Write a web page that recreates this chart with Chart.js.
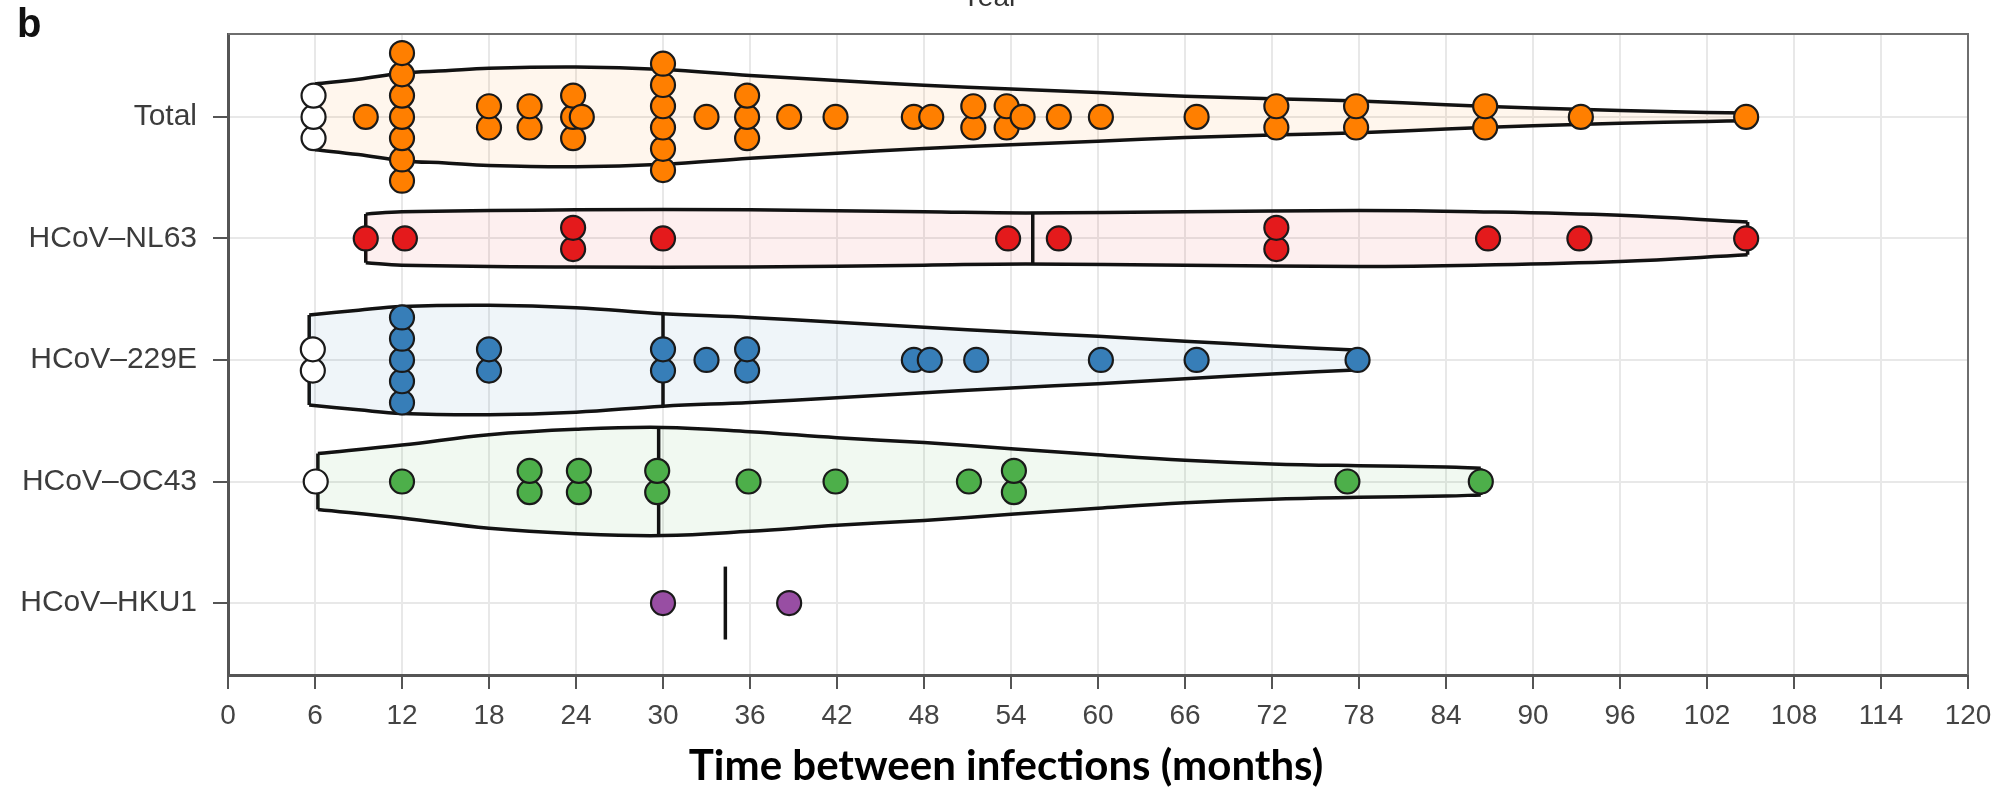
<!DOCTYPE html>
<html>
<head>
<meta charset="utf-8">
<script src="https://cdn.jsdelivr.net/npm/chart.js@4.4.1/dist/chart.umd.min.js"></script>
<style>
  html, body { margin: 0; padding: 0; background: #fff; }
  #wrap { width: 2012px; height: 797px; }
</style>
</head>
<body>
<div id="wrap"><canvas id="violin" width="2012" height="797"></canvas></div>
<script>
// rows, top to bottom
const rowNames = ['Total', 'HCoV–NL63', 'HCoV–229E', 'HCoV–OC43', 'HCoV–HKU1'];
const rowColors = ['#FF7F00', '#E41A1C', '#377EB8', '#4DAF4A', '#984EA3'];
const rowTints = ['rgba(255,127,0,0.07)', 'rgba(228,26,28,0.07)', 'rgba(55,126,184,0.08)', 'rgba(77,175,74,0.08)', 'rgba(152,78,163,0.08)'];
const monthTicks = [0, 6, 12, 18, 24, 30, 36, 42, 48, 54, 60, 66, 72, 78, 84, 90, 96, 102, 108, 114, 120];

// months between infections (one entry per dot)
const totalMonths = [9.5, 12, 12, 12, 12, 12, 12, 12, 18, 18, 20.8, 20.8, 23.8, 23.8, 23.8, 24.4,
  30, 30, 30, 30, 30, 30, 33, 35.8, 35.8, 35.8, 38.7, 41.9, 47.3, 48.5, 51.4, 51.4,
  53.7, 53.7, 54.8, 57.3, 60.2, 66.8, 72.3, 72.3, 77.8, 77.8, 86.7, 86.7, 93.3, 104.7];
const nl63Months = [9.5, 12.2, 23.8, 23.8, 30, 53.8, 57.3, 72.3, 72.3, 86.9, 93.2, 104.7];
const e229Months = [12, 12, 12, 12, 12, 18, 18, 30, 30, 33, 35.8, 35.8, 47.3, 48.4, 51.6, 60.2, 66.8, 77.9];
const oc43Months = [12, 20.8, 20.8, 24.2, 24.2, 29.6, 29.6, 35.9, 41.9, 51.1, 54.2, 54.2, 77.2, 86.4];
const hku1Months = [30, 38.7];

// open (white) dots
const totalOpen = [5.9, 5.9, 5.9];
const e229Open = [5.85, 5.85];
const oc43Open = [6.05];

const medianMonths = [30, 55.5, 30, 29.7, 34.3];
const hku1MedianHalf = 0.3;

// violin outlines: month and half width (in row heights)
const totalShapeX = [6, 9, 12, 15, 18, 24, 30, 36, 42, 48, 54, 60, 66, 72, 78, 84, 90, 96, 102, 104.7];
const totalShapeW = [0.27, 0.31, 0.36, 0.38, 0.40, 0.41, 0.39, 0.34, 0.30, 0.26, 0.23, 0.20, 0.17, 0.15, 0.13, 0.10, 0.073, 0.053, 0.037, 0.032];
const nl63ShapeX = [9.5, 12, 24, 36, 48, 55, 66, 78, 86, 96, 104.8];
const nl63ShapeW = [0.20, 0.22, 0.235, 0.235, 0.22, 0.21, 0.22, 0.23, 0.22, 0.19, 0.135];
const e229ShapeX = [5.6, 9, 12, 18, 24, 30, 36, 42, 48, 54, 60, 66, 72, 78.1];
const e229ShapeW = [0.37, 0.41, 0.44, 0.45, 0.43, 0.38, 0.35, 0.31, 0.27, 0.23, 0.195, 0.155, 0.115, 0.08];
const oc43ShapeX = [6.2, 12, 18, 24, 30, 36, 42, 48, 54, 60, 66, 72, 78, 84, 86.4];
const oc43ShapeW = [0.23, 0.30, 0.385, 0.43, 0.445, 0.41, 0.36, 0.32, 0.27, 0.22, 0.175, 0.145, 0.13, 0.12, 0.11];

const dotMonths = [totalMonths, nl63Months, e229Months, oc43Months, hku1Months];
const openMonths = [totalOpen, [], e229Open, oc43Open, []];
const shapes = [[totalShapeX, totalShapeW], [nl63ShapeX, nl63ShapeW], [e229ShapeX, e229ShapeW], [oc43ShapeX, oc43ShapeW], null];

const STEP = 0.175; // vertical stacking step for equal values
const rowY = i => rowNames.length - 1 - i;

function stack(vals, y) {
  const count = {}, seen = {};
  vals.forEach(v => { count[v] = (count[v] || 0) + 1; });
  return vals.map(v => {
    const k = seen[v] = (seen[v] || 0) + 1;
    return { x: v, y: y + (k - 1 - (count[v] - 1) / 2) * STEP };
  });
}

function widthAt(xs, ws, m) {
  for (let j = 1; j < xs.length; j++) {
    if (m <= xs[j]) return ws[j - 1] + (ws[j] - ws[j - 1]) * (m - xs[j - 1]) / (xs[j] - xs[j - 1]);
  }
  return ws[ws.length - 1];
}

const datasets = [];
rowNames.forEach((name, i) => {
  const y = rowY(i);
  const outline = { showLine: true, pointRadius: 0, borderColor: '#121212', borderWidth: 3.5, order: 3 };
  let half = hku1MedianHalf;
  if (shapes[i]) {
    const [xs, ws] = shapes[i];
    const n = xs.length - 1;
    datasets.push({ ...outline, label: name + ' upper', data: xs.map((x, j) => ({ x, y: y + ws[j] })),
      tension: 0.4, fill: { value: y }, backgroundColor: rowTints[i] });
    datasets.push({ ...outline, label: name + ' lower', data: xs.map((x, j) => ({ x, y: y - ws[j] })),
      tension: 0.4, fill: { value: y }, backgroundColor: rowTints[i] });
    datasets.push({ ...outline, label: name + ' ends', fill: false, data: [
      { x: xs[0], y: y - ws[0] }, { x: xs[0], y: y + ws[0] }, { x: xs[0], y: null },
      { x: xs[n], y: y - ws[n] }, { x: xs[n], y: y + ws[n] }] });
    half = widthAt(xs, ws, medianMonths[i]);
  }
  datasets.push({ ...outline, order: 2, label: name + ' median', fill: false,
    data: [{ x: medianMonths[i], y: y - half }, { x: medianMonths[i], y: y + half }] });
  datasets.push({ label: name, data: stack(dotMonths[i], y), showLine: false, order: 0,
    pointRadius: 12, backgroundColor: rowColors[i], borderColor: '#1a1a1a', borderWidth: 2.2 });
  if (openMonths[i].length) {
    datasets.push({ label: name + ' open', data: stack(openMonths[i], y), showLine: false, order: 0,
      pointRadius: 12, backgroundColor: '#ffffff', borderColor: '#1a1a1a', borderWidth: 2.2 });
  }
});

const decor = {
  id: 'decor',
  afterDraw(chart) {
    const { ctx, chartArea: a } = chart;
    ctx.save();
    ctx.strokeStyle = '#6e6e6e';
    ctx.lineWidth = 2;
    ctx.beginPath();
    ctx.moveTo(a.left, a.top);
    ctx.lineTo(a.right, a.top);
    ctx.lineTo(a.right, a.bottom);
    ctx.stroke();
    ctx.fillStyle = '#111';
    ctx.textBaseline = 'alphabetic';
    ctx.font = 'bold 40px "Liberation Sans", Arial, sans-serif';
    ctx.fillText('b', 17, 37);
    ctx.fillStyle = '#333';
    ctx.textAlign = 'center';
    ctx.font = '28px "Liberation Sans", Arial, sans-serif';
    ctx.fillText('Year', 990, 6);
    ctx.fillStyle = '#000';
    ctx.textBaseline = 'middle';
    ctx.font = 'bold 42px Lato, "Open Sans", sans-serif';
    ctx.fillText('Time between infections (months)', chart.width / 2, 766);
    ctx.restore();
  }
};

const tickFont = { family: '"Liberation Sans", Arial, sans-serif', size: 28 };
new Chart(document.getElementById('violin'), {
  type: 'scatter',
  data: { datasets },
  plugins: [decor],
  options: {
    responsive: false,
    animation: false,
    events: [],
    layout: { padding: { top: 25, right: 44, left: 0, bottom: 0 } },
    plugins: { legend: { display: false }, tooltip: { enabled: false } },
    scales: {
      x: {
        type: 'linear', min: 0, max: 120,
        afterBuildTicks: s => { s.ticks = monthTicks.map(v => ({ value: v })); },
        afterFit: s => { s.height = 122; },
        ticks: { font: tickFont, color: '#444', padding: 10, maxRotation: 0, autoSkip: false },
        grid: { color: '#e8e8e8', lineWidth: 2, tickColor: '#555', tickLength: 14, tickWidth: 2 },
        border: { color: '#555', width: 3 }
      },
      y: {
        type: 'linear', min: -0.592, max: 4.682,
        afterBuildTicks: s => { s.ticks = rowNames.map((n, i) => ({ value: rowY(i) })); },
        afterFit: s => { s.width = 228; },
        ticks: { font: { ...tickFont, size: 30 }, color: '#3c3c3c', padding: 16,
          callback: v => rowNames[rowNames.length - 1 - v] },
        grid: { color: '#e8e8e8', lineWidth: 2, tickColor: '#555', tickLength: 15, tickWidth: 2 },
        border: { color: '#555', width: 3 }
      }
    }
  }
});
</script>
</body>
</html>
